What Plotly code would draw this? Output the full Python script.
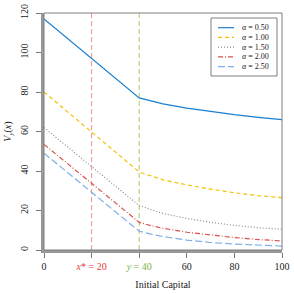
import plotly.graph_objects as go

x_vals = [0, 40, 45, 50, 60, 70, 80, 90, 100]
alphas = ["0.50", "1.00", "1.50", "2.00", "2.50"]
v_a050 = [117, 77, 75.5, 74, 71.8, 70, 68.5, 67.2, 66]
v_a100 = [80, 39.5, 37.5, 35.5, 33, 30.8, 29, 27.5, 26.5]
v_a150 = [62, 22.5, 20.5, 18.5, 16, 14, 12.5, 11.3, 10.5]
v_a200 = [53.5, 14, 12.3, 11, 9, 7.5, 6.3, 5.3, 4.6]
v_a250 = [49, 9.5, 8, 6.8, 5, 3.8, 3, 2.4, 2]
series = [v_a050, v_a100, v_a150, v_a200, v_a250]
colors = ["#1a7fd1", "#f2c200", "#8c8c8c", "#d9534f", "#7fb0e8"]
dashes = ["solid", "4px,3px", "1px,2px", "5px,2px,1px,2px", "7px,3px"]
x_star = 20
y_mark = 40
tick_vals = [0, 20, 40, 60, 80, 100]
tick_text = ["0", "<span style='color:#e8383d'><i>x</i>* = 20</span>",
             "<span style='color:#7cb342'><i>y</i> = 40</span>", "60", "80", "100"]

FONT = "Liberation Serif, DejaVu Serif, serif"
L, R, T, B = 44, 12, 13, 44
W = H = 294
pw, ph = W - L - R, H - T - B

def px(xp):
    return (xp - L) / pw

def py(yp):
    return (H - B - yp) / ph

fig = go.Figure()
for a, vals, c, d in zip(alphas, series, colors, dashes):
    fig.add_trace(go.Scatter(x=x_vals, y=vals, mode="lines", showlegend=False,
                             line=dict(color=c, dash=d, width=1.2)))

fig.add_shape(type="line", x0=x_star, x1=x_star, y0=0, y1=1, yref="paper",
              line=dict(color="#f0908c", dash="5px,3px", width=1), layer="below")
fig.add_shape(type="line", x0=y_mark, x1=y_mark, y0=0, y1=1, yref="paper",
              line=dict(color="#a8cc6a", dash="5px,3px", width=1), layer="below")
fig.add_shape(type="rect", xref="paper", yref="paper", x0=0, x1=1, y0=0, y1=1,
              line=dict(color="#7f7f7f", width=1))

# custom compact legend
fig.add_shape(type="rect", xref="paper", yref="paper", x0=px(211), x1=px(277),
              y0=py(76), y1=py(18), line=dict(color="#7f7f7f", width=1),
              fillcolor="white")
for i, (a, c, d) in enumerate(zip(alphas, colors, dashes)):
    yy = 27.7 + i * 9.75
    fig.add_shape(type="line", xref="paper", yref="paper", x0=px(218), x1=px(234),
                  y0=py(yy), y1=py(yy), line=dict(color=c, dash=d, width=1.2))
    fig.add_annotation(xref="paper", yref="paper", x=px(240), y=py(yy),
                       xanchor="left", yanchor="middle", showarrow=False,
                       text=f"<i>α</i> = {a}", font=dict(size=8, family=FONT, color="#222"))

fig.update_layout(
    width=W, height=H,
    margin=dict(l=L, r=R, t=T, b=B),
    paper_bgcolor="white", plot_bgcolor="white",
    font=dict(family=FONT, size=10, color="#222"),
    showlegend=False,
    xaxis=dict(range=[0, 100], tickvals=tick_vals, ticktext=tick_text,
               showgrid=False, zeroline=False, showline=True, linecolor="#999",
               linewidth=3, ticks="outside", ticklen=5, tickcolor="#777",
               automargin=False,
               title=dict(text="Initial Capital", standoff=10, font=dict(size=10))),
    yaxis=dict(range=[0, 120], tickvals=[0, 20, 40, 60, 80, 100, 120],
               tickangle=-90, showgrid=False, zeroline=False, showline=True,
               linecolor="#999", linewidth=3, ticks="outside", ticklen=5,
               tickcolor="#777", automargin=False, ticklabelstandoff=4,
               title=dict(text="<i>V<sub>y</sub></i>(<i>x</i>)", standoff=6,
                          font=dict(size=10))),
)
fig.write_html("out.html", config={"displayModeBar": False},
               post_script="document.body.style.margin='0';")
